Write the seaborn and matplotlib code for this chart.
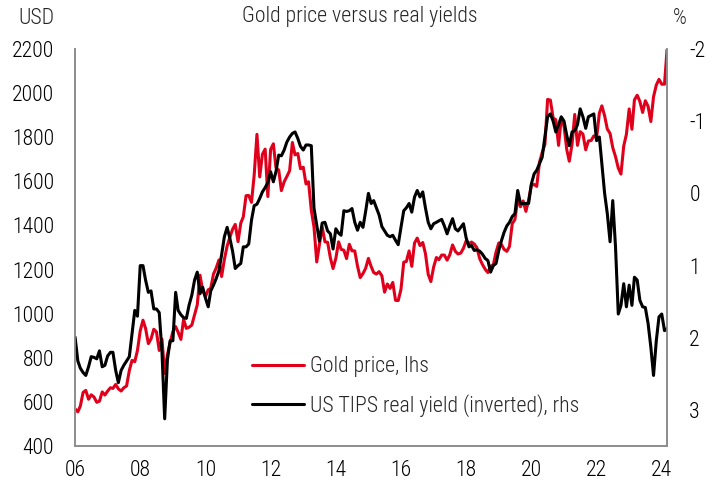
import numpy as np
import pandas as pd
import seaborn as sns
import matplotlib.pyplot as plt
import matplotlib.dates as mdates
from matplotlib import font_manager

# monthly points, Jan 2006 .. Mar 2024
meses = pd.date_range('2006-01-01', '2024-03-01', freq='MS')

ouro = [569, 556, 582, 644, 653, 613, 633, 623, 599, 604, 646, 632,
        650, 665, 662, 680, 660, 650, 665, 673, 743, 789, 783, 834,
        923, 971, 934, 865, 886, 930, 918, 834, 885, 730, 815, 870,
        919, 942, 916, 884, 975, 934, 939, 949, 996, 1040, 1175, 1104,
        1078, 1109, 1115, 1180, 1207, 1244, 1169, 1246, 1307, 1346, 1383, 1405,
        1327, 1411, 1439, 1535, 1536, 1505, 1628, 1813, 1620, 1722, 1746, 1531,
        1744, 1770, 1662, 1651, 1558, 1598, 1622, 1648, 1776, 1720, 1726, 1657,
        1664, 1588, 1598, 1469, 1394, 1235, 1314, 1394, 1326, 1324, 1253, 1205,
        1251, 1326, 1292, 1288, 1250, 1315, 1285, 1285, 1216, 1164, 1182, 1206,
        1251, 1214, 1187, 1180, 1191, 1172, 1098, 1135, 1115, 1142, 1061, 1060,
        1111, 1234, 1237, 1285, 1215, 1321, 1343, 1309, 1323, 1273, 1179, 1146,
        1212, 1255, 1245, 1266, 1266, 1243, 1267, 1312, 1283, 1271, 1275, 1297,
        1331, 1318, 1325, 1316, 1299, 1250, 1224, 1202, 1187, 1215, 1222, 1279,
        1321, 1313, 1292, 1283, 1305, 1409, 1427, 1520, 1485, 1511, 1464, 1515,
        1582, 1586, 1577, 1686, 1730, 1768, 1971, 1968, 1887, 1879, 1763, 1888,
        1850, 1743, 1691, 1768, 1903, 1763, 1825, 1814, 1743, 1783, 1785, 1806,
        1796, 1909, 1942, 1897, 1837, 1817, 1753, 1712, 1660, 1633, 1760, 1813,
        1928, 1836, 1969, 1990, 1962, 1912, 1965, 1940, 1871, 1983, 2036, 2062,
        2040, 2040, 2200]

tips = [1.99, 2.32, 2.42, 2.48, 2.52, 2.40, 2.26, 2.27, 2.29, 2.18, 2.40, 2.38,
        2.25, 2.20, 2.20, 2.45, 2.62, 2.45, 2.38, 2.32, 2.26, 1.95, 1.62, 1.70,
        1.00, 1.00, 1.20, 1.37, 1.35, 1.60, 1.60, 1.65, 2.20, 3.12, 2.30, 2.04,
        2.04, 1.37, 1.62, 1.68, 1.72, 1.73, 1.55, 1.41, 1.20, 1.09, 1.39, 1.30,
        1.45, 1.57, 1.35, 1.27, 1.18, 1.07, 0.85, 0.60, 0.47, 0.62, 0.80, 1.04,
        1.00, 0.97, 0.74, 0.74, 0.70, 0.37, 0.17, 0.15, 0.07, -0.02, -0.08, -0.15,
        -0.30, -0.16, -0.30, -0.53, -0.52, -0.60, -0.71, -0.78, -0.83, -0.85, -0.76, -0.65,
        -0.60, -0.67, -0.67, -0.66, 0.20, 0.44, 0.66, 0.41, 0.40, 0.52, 0.56, 0.77,
        0.49, 0.55, 0.58, 0.24, 0.25, 0.24, 0.21, 0.40, 0.51, 0.40, 0.47, 0.25,
        0.00, 0.14, 0.10, 0.20, 0.30, 0.46, 0.52, 0.58, 0.60, 0.58, 0.65, 0.71,
        0.47, 0.24, 0.20, 0.14, 0.26, 0.05, -0.04, 0.05, -0.02, 0.20, 0.40, 0.49,
        0.42, 0.40, 0.38, 0.36, 0.45, 0.56, 0.45, 0.35, 0.49, 0.52, 0.47, 0.42,
        0.62, 0.74, 0.72, 0.79, 0.78, 0.80, 0.84, 0.90, 0.93, 1.09, 1.00, 0.97,
        0.79, 0.65, 0.54, 0.45, 0.40, 0.32, 0.28, -0.04, 0.14, 0.14, 0.14, 0.14,
        -0.13, -0.27, -0.32, -0.41, -0.50, -0.78, -1.06, -1.10, -1.00, -0.85, -0.95, -1.06,
        -1.00, -0.80, -0.66, -0.85, -0.87, -0.95, -1.17, -1.06, -0.90, -1.06, -1.08, -1.10,
        -0.73, -0.78, -0.41, 0.00, 0.28, 0.67, 0.10, 0.74, 1.67, 1.55, 1.25, 1.57,
        1.27, 1.55, 1.16, 1.20, 1.48, 1.57, 1.58, 1.80, 2.13, 2.52, 2.04, 1.71,
        1.67, 1.90, 1.87]

anos_ticks = ['2006', '2008', '2010', '2012', '2014', '2016', '2018', '2020', '2022', '2024']

tabela = pd.DataFrame({'data': meses, 'ouro': ouro, 'tips': tips})

vermelho = '#E0001B'
cinza = '#8C8C8C'

sns.set_style("white")

# narrow font if there is one, otherwise plain Liberation Sans
nomes = {f.name for f in font_manager.fontManager.ttflist}
fonte = 'Liberation Sans'
for candidato in ['Liberation Sans Narrow', 'Roboto Condensed', 'Arial Narrow', 'Open Sans Condensed']:
    if candidato in nomes:
        fonte = candidato
        break
plt.rcParams['font.family'] = [fonte, 'DejaVu Sans']
plt.rcParams['font.weight'] = 'light'
plt.rcParams['axes.unicode_minus'] = False

fig = plt.figure(figsize=(7.15, 4.84), dpi=100)

# size so the long legend label is ~270 px wide like the reference
teste = fig.text(0, 0, 'US TIPS real yield (inverted), rhs', fontsize=15)
fig.canvas.draw()
largura = teste.get_window_extent().width
teste.remove()
fs = min(16, 15 * 270 / largura)

ax = fig.add_axes([0.105, 0.078, 0.828, 0.821])
ax2 = ax.twinx()

sns.lineplot(data=tabela, x='data', y='ouro', ax=ax, color=vermelho, linewidth=2.2,
             label='Gold price, lhs', legend=False)
sns.lineplot(data=tabela, x='data', y='tips', ax=ax2, color='black', linewidth=2.2,
             label='US TIPS real yield (inverted), rhs', legend=False)

ax.set_xlim(pd.Timestamp('2006-01-01'), pd.Timestamp('2024-03-01'))
ax.set_ylim(400, 2200)
ax.set_yticks(range(400, 2201, 200))
ax2.set_ylim(3.5, -2)
ax2.set_yticks([-2, -1, 0, 1, 2, 3])
ax.set_xticks([pd.Timestamp(a + '-01-01') for a in anos_ticks])
ax.xaxis.set_major_formatter(mdates.DateFormatter('%y'))

for a in (ax, ax2):
    a.set_xlabel('')
    a.set_ylabel('')
    a.tick_params(length=0, labelsize=fs, colors='black')
    a.spines['top'].set_visible(False)
    for s in ('left', 'right', 'bottom'):
        a.spines[s].set_color(cinza)
        a.spines[s].set_linewidth(1.2)
ax.tick_params(axis='y', pad=15)
ax.tick_params(axis='x', pad=10)
ax2.tick_params(axis='y', pad=16)

fig.text(0.503, 0.966, 'Gold price versus real yields', ha='center', va='center', fontsize=fs)
fig.text(0.051, 0.962, 'USD', ha='center', va='center', fontsize=fs)
fig.text(0.951, 0.962, '%', ha='center', va='center', fontsize=fs)

linhas = ax.get_lines() + ax2.get_lines()
ax2.legend(linhas, [l.get_label() for l in linhas], loc='lower left',
           bbox_to_anchor=(0.265, 0.025), frameon=False, fontsize=fs,
           handlelength=2.4, handletextpad=0.3, labelspacing=0.75)

fig.savefig('out.png', dpi=100)
